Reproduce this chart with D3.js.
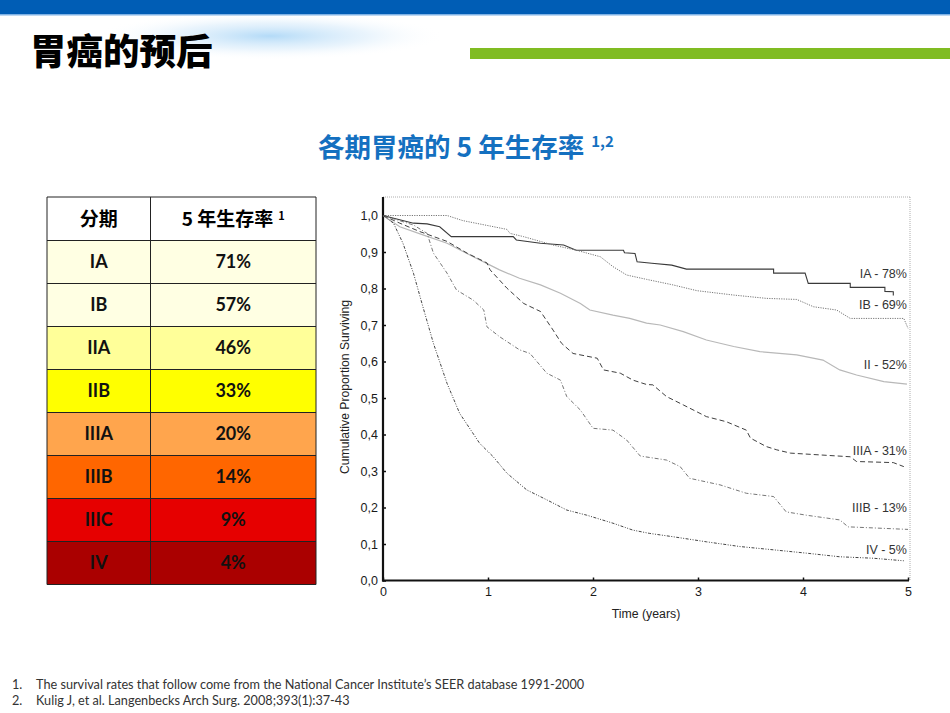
<!DOCTYPE html>
<html>
<head>
<meta charset="utf-8">
<script src="https://cdn.jsdelivr.net/npm/d3@7"></script>
<style>
  body { margin: 0; background: #fff; }
  svg { display: block; }
</style>
</head>
<body>
<svg id="slide" width="950" height="713"></svg>
<script>
// table data
var stages = ["IA", "IB", "IIA", "IIB", "IIIA", "IIIB", "IIIC", "IV"];
var fiveYearRates = [71, 57, 46, 33, 20, 14, 9, 4];
var tableHeader = ["分期", "5 年生存率"];

// survival curves: [years, proportion]
var curveNames = ["IA - 78%", "IB - 69%", "II - 52%", "IIIA - 31%", "IIIB - 13%", "IV - 5%"];
var curveIA = [[0,1],[0.29,0.979],[0.42,0.977],[0.54,0.969],[0.65,0.942],[1.24,0.942],[1.27,0.933],[1.5,0.924],[1.72,0.919],[1.84,0.905],[2.29,0.905],[2.3,0.898],[2.4,0.896],[2.42,0.873],[2.56,0.869],[2.75,0.864],[2.89,0.853],[3.72,0.853],[3.72,0.842],[4.02,0.842],[4.05,0.814],[4.45,0.814],[4.45,0.803],[4.78,0.803],[4.78,0.792],[4.86,0.791],[4.86,0.781]];
var curveIB = [[0,1],[0.61,1],[0.76,0.986],[1.18,0.962],[1.21,0.951],[1.34,0.942],[1.62,0.919],[1.84,0.905],[2.07,0.887],[2.19,0.86],[2.32,0.837],[2.51,0.825],[2.76,0.81],[2.99,0.794],[3.34,0.782],[3.65,0.773],[3.94,0.77],[4.1,0.75],[4.32,0.741],[4.45,0.718],[4.96,0.718],[5,0.691]];
var curveII = [[0,1],[0.16,0.969],[0.38,0.947],[0.61,0.924],[0.86,0.887],[1.02,0.864],[1.11,0.851],[1.3,0.828],[1.5,0.81],[1.69,0.787],[1.88,0.759],[1.97,0.741],[2.19,0.727],[2.35,0.718],[2.51,0.705],[2.64,0.7],[2.86,0.682],[3.08,0.659],[3.34,0.641],[3.59,0.627],[3.94,0.618],[4.19,0.604],[4.35,0.577],[4.51,0.563],[4.77,0.545],[4.99,0.538]];
var curveIIIA = [[0,1],[0.16,0.979],[0.35,0.956],[0.61,0.929],[0.8,0.897],[0.99,0.87],[1.02,0.851],[1.18,0.801],[1.34,0.759],[1.5,0.737],[1.62,0.686],[1.7,0.65],[1.81,0.622],[2.04,0.609],[2.1,0.577],[2.26,0.568],[2.38,0.549],[2.51,0.537],[2.57,0.536],[2.7,0.504],[2.86,0.481],[3.08,0.449],[3.27,0.435],[3.46,0.412],[3.5,0.39],[3.65,0.367],[3.75,0.358],[3.88,0.349],[4.45,0.339],[4.51,0.326],[4.86,0.323],[4.96,0.312]];
var curveIIIB = [[0,1],[0.29,0.974],[0.42,0.951],[0.48,0.897],[0.61,0.842],[0.7,0.796],[0.86,0.768],[0.96,0.741],[0.99,0.695],[1.11,0.668],[1.3,0.632],[1.4,0.622],[1.56,0.568],[1.69,0.549],[1.75,0.504],[1.88,0.467],[2,0.417],[2.19,0.412],[2.32,0.385],[2.45,0.341],[2.7,0.33],[2.83,0.312],[2.92,0.28],[3.21,0.262],[3.46,0.239],[3.72,0.23],[3.84,0.188],[4.03,0.179],[4.35,0.166],[4.43,0.147],[5,0.14]];
var curveIV = [[0,1],[0.1,0.979],[0.19,0.924],[0.29,0.842],[0.38,0.75],[0.48,0.65],[0.61,0.54],[0.73,0.458],[0.92,0.376],[1.05,0.339],[1.18,0.294],[1.37,0.248],[1.56,0.221],[1.75,0.193],[1.94,0.179],[2.19,0.157],[2.38,0.138],[2.54,0.129],[2.76,0.12],[3.08,0.106],[3.4,0.093],[3.72,0.084],[4.03,0.075],[4.35,0.065],[4.67,0.061],[4.96,0.054]];
// where each curve's label sits, in proportion units
var labelLevels = [0.84, 0.755, 0.593, 0.355, 0.199, 0.086];

var yTicks = [0, 0.1, 0.2, 0.3, 0.4, 0.5, 0.6, 0.7, 0.8, 0.9, 1.0];
var xTicks = [0, 1, 2, 3, 4, 5];

var footnotes = [
    "The survival rates that follow come from the National Cancer Institute’s SEER database 1991-2000",
    "Kulig J, et al. Langenbecks Arch Surg. 2008;393(1):37-43"
];

var svg = d3.select("#slide");
var cjk = "'Noto Sans CJK SC', 'Noto Sans', sans-serif";
var arial = "'Liberation Sans', Arial, sans-serif";

// ---- header decoration
var defs = svg.append("defs");
var glow = defs.append("radialGradient").attr("id", "glow");
glow.append("stop").attr("offset", "0%").attr("stop-color", "#a6d4f6").attr("stop-opacity", 0.85);
glow.append("stop").attr("offset", "55%").attr("stop-color", "#d3e9fa").attr("stop-opacity", 0.5);
glow.append("stop").attr("offset", "100%").attr("stop-color", "#ffffff").attr("stop-opacity", 0);

svg.append("ellipse")
    .attr("cx", 270).attr("cy", 36).attr("rx", 175).attr("ry", 24)
    .attr("fill", "url(#glow)");
svg.append("rect").attr("x", 0).attr("y", 0).attr("width", 950).attr("height", 14).attr("fill", "#005db5");
svg.append("rect").attr("x", 0).attr("y", 14).attr("width", 950).attr("height", 1.5).attr("fill", "#7fb2e5");
svg.append("rect").attr("x", 470).attr("y", 48).attr("width", 480).attr("height", 11).attr("fill", "#80bc22");

svg.append("text")
    .attr("x", 30).attr("y", 65)
    .style("font-family", cjk).style("font-weight", 900).style("font-size", "36.5px")
    .attr("fill", "#000")
    .text("胃癌的预后");

// ---- subtitle
var sub = svg.append("text")
    .attr("x", 318).attr("y", 157)
    .style("font-family", cjk).style("font-weight", 700).style("font-size", "26.5px")
    .attr("fill", "#1470c0");
sub.append("tspan").text("各期胃癌的 5 年生存率");
sub.append("tspan").attr("dx", 7).attr("dy", -10).style("font-size", "15px").text("1,2");

// ---- table
var table = {x: 47, y: 197, w: 269, colSplit: 103.5, headH: 43.5, rowH: 43};
var rowColor = d3.scaleOrdinal()
    .domain(stages)
    .range(["#ffffe3", "#ffffe3", "#ffff99", "#ffff00", "#ffa54d", "#ff6600", "#e60000", "#aa0000"]);

var rowY = d3.scaleBand()
    .domain(stages)
    .range([table.y + table.headH, table.y + table.headH + table.rowH * stages.length]);

var tg = svg.append("g");
tg.append("rect")
    .attr("x", table.x).attr("y", table.y)
    .attr("width", table.w).attr("height", table.headH)
    .attr("fill", "#fff");

var rows = tg.selectAll("g.row")
    .data(stages)
    .enter().append("g")
    .attr("class", "row")
    .attr("transform", function (d) { return "translate(0," + rowY(d) + ")"; });

rows.append("rect")
    .attr("x", table.x).attr("width", table.w)
    .attr("height", rowY.bandwidth())
    .attr("fill", function (d) { return rowColor(d); });

rows.append("text")
    .attr("x", table.x + table.colSplit / 2)
    .attr("y", rowY.bandwidth() / 2 + 6)
    .attr("text-anchor", "middle")
    .style("font-family", "Lato, sans-serif").style("font-weight", 700).style("font-size", "18px")
    .attr("fill", "#111")
    .text(function (d) { return d; });

rows.append("text")
    .attr("x", table.x + table.colSplit + (table.w - table.colSplit) / 2)
    .attr("y", rowY.bandwidth() / 2 + 6)
    .attr("text-anchor", "middle")
    .style("font-family", "Lato, sans-serif").style("font-weight", 700).style("font-size", "18px")
    .attr("fill", "#111")
    .text(function (d, i) { return fiveYearRates[i] + "%"; });

// header text
tg.append("text")
    .attr("x", table.x + table.colSplit / 2).attr("y", table.y + 29)
    .attr("text-anchor", "middle")
    .style("font-family", cjk).style("font-weight", 700).style("font-size", "19px")
    .text(tableHeader[0]);
var h2 = tg.append("text")
    .attr("x", table.x + table.colSplit + (table.w - table.colSplit) / 2).attr("y", table.y + 29)
    .attr("text-anchor", "middle")
    .style("font-family", cjk).style("font-weight", 700).style("font-size", "19px")
    .text(tableHeader[1]);
h2.append("tspan").attr("dx", 5).attr("dy", -6).style("font-size", "11px").text("1");

// grid lines
var tableBottom = table.y + table.headH + table.rowH * stages.length;
var hLines = [table.y, table.y + table.headH].concat(stages.map(function (d) { return rowY(d) + rowY.bandwidth(); }));
tg.selectAll("line.h")
    .data(hLines)
    .enter().append("line")
    .attr("x1", table.x).attr("x2", table.x + table.w)
    .attr("y1", function (d) { return d; }).attr("y2", function (d) { return d; })
    .attr("stroke", "#222").attr("stroke-width", 1);
tg.selectAll("line.v")
    .data([table.x, table.x + table.colSplit, table.x + table.w])
    .enter().append("line")
    .attr("x1", function (d) { return d; }).attr("x2", function (d) { return d; })
    .attr("y1", table.y).attr("y2", tableBottom)
    .attr("stroke", "#222").attr("stroke-width", 1);

// ---- survival chart
var x = d3.scaleLinear().domain([0, 5]).range([383, 908]);
var y = d3.scaleLinear().domain([0, 1]).range([580.5, 215.5]);
var cg = svg.append("g");

// frame (top and right are thin dotted)
cg.append("line").attr("x1", 383).attr("x2", 910).attr("y1", 197).attr("y2", 197)
    .attr("stroke", "#999").attr("stroke-width", 0.8).attr("stroke-dasharray", "1,1");
cg.append("line").attr("x1", 910).attr("x2", 910).attr("y1", 197).attr("y2", 580)
    .attr("stroke", "#999").attr("stroke-width", 0.8).attr("stroke-dasharray", "1,1");

var yAxis = cg.append("g")
    .attr("transform", "translate(383,0)")
    .call(d3.axisLeft(y).tickValues(yTicks).tickSizeInner(-3).tickSizeOuter(0).tickPadding(5)
        .tickFormat(function (d) { return d3.format(".1f")(d).replace(".", ","); }));
yAxis.select(".domain").remove();
cg.append("line").attr("x1", 383).attr("x2", 383).attr("y1", 197).attr("y2", 581.5)
    .attr("stroke", "#111").attr("stroke-width", 2.2);

var xAxis = cg.append("g")
    .attr("transform", "translate(0,580.5)")
    .call(d3.axisBottom(x).tickValues(xTicks).tickSizeInner(-3).tickSizeOuter(0).tickPadding(7)
        .tickFormat(d3.format("d")));
xAxis.select(".domain").remove();
cg.append("line").attr("x1", 382).attr("x2", 909).attr("y1", 580.5).attr("y2", 580.5)
    .attr("stroke", "#111").attr("stroke-width", 2.2);

cg.selectAll(".tick line").attr("stroke", "#111").attr("stroke-width", 1.5);
cg.selectAll(".tick text")
    .style("font-family", arial)
    .style("font-size", "12.5px").attr("fill", "#1a1a1a");

cg.append("text")
    .attr("transform", "translate(349,387) rotate(-90)")
    .attr("text-anchor", "middle")
    .style("font-family", arial).style("font-size", "12.2px")
    .attr("fill", "#222")
    .text("Cumulative Proportion Surviving");
cg.append("text")
    .attr("x", 646).attr("y", 618)
    .attr("text-anchor", "middle")
    .style("font-family", arial).style("font-size", "12.3px")
    .attr("fill", "#222")
    .text("Time (years)");

var curves = [curveIA, curveIB, curveII, curveIIIA, curveIIIB, curveIV];
var curveStyle = [
    {stroke: "#3a3a3a", dash: null, w: 1.1},
    {stroke: "#777", dash: "1.2,1.2", w: 1},
    {stroke: "#b8b8b8", dash: null, w: 1.2},
    {stroke: "#2a2a2a", dash: "5,3", w: 0.9},
    {stroke: "#666", dash: "4,2,1,2", w: 0.9},
    {stroke: "#444", dash: "3,1.5,1,1.5,1,1.5", w: 1}
];

var line = d3.line()
    .x(function (d) { return x(d[0]); })
    .y(function (d) { return y(d[1]); });

cg.selectAll("path.km")
    .data(curves)
    .enter().append("path")
    .attr("class", "km")
    .attr("d", line)
    .attr("fill", "none")
    .attr("stroke", function (d, i) { return curveStyle[i].stroke; })
    .attr("stroke-width", function (d, i) { return curveStyle[i].w; })
    .attr("stroke-dasharray", function (d, i) { return curveStyle[i].dash; });

cg.selectAll("text.lab")
    .data(curveNames)
    .enter().append("text")
    .attr("class", "lab")
    .attr("x", x(4.99))
    .attr("y", function (d, i) { return y(labelLevels[i]) + 4.5; })
    .attr("text-anchor", "end")
    .style("font-family", arial).style("font-size", "12.5px")
    .attr("fill", "#333")
    .text(function (d) { return d; });

// ---- footnotes
svg.selectAll("text.fn")
    .data(footnotes)
    .enter().append("text")
    .attr("class", "fn")
    .attr("y", function (d, i) { return 689 + i * 16; })
    .style("font-family", "Lato, sans-serif").style("font-size", "12.7px")
    .attr("fill", "#333")
    .each(function (d, i) {
        var t = d3.select(this);
        t.append("tspan").attr("x", 12).text((i + 1) + ".");
        t.append("tspan").attr("x", 36).text(d);
    });
</script>
</body>
</html>
